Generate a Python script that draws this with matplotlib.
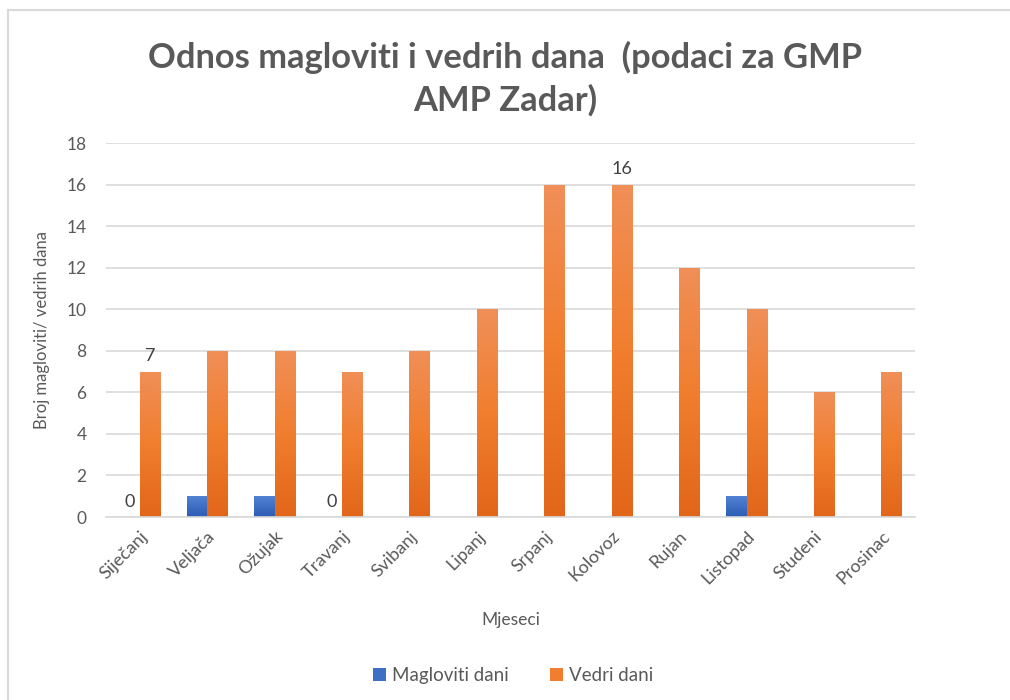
import numpy as np
import matplotlib.pyplot as plt
from matplotlib.colors import LinearSegmentedColormap
from matplotlib.lines import Line2D
from matplotlib.patches import Patch

plt.rcParams["font.family"] = ["Lato", "DejaVu Sans"]

TEXT_COLOR = "#595959"
GRID_COLOR = "#D9D9D9"

months = ["Siječanj", "Veljača", "Ožujak", "Travanj", "Svibanj", "Lipanj",
          "Srpanj", "Kolovoz", "Rujan", "Listopad", "Studeni", "Prosinac"]
foggy_days = [0, 1, 1, 0, 0, 0, 0, 0, 0, 1, 0, 0]
clear_days = [7, 8, 8, 7, 8, 10, 16, 16, 12, 10, 6, 7]

# which bars carry a value label: (series, month index)
labelled = [("foggy", 0), ("clear", 0), ("foggy", 3), ("clear", 7)]

orange_cmap = LinearSegmentedColormap.from_list("og", ["#E2661A", "#F07E2E", "#F08F58"])
blue_cmap = LinearSegmentedColormap.from_list("bl", ["#2C5BB3", "#3F6FC4", "#5282D2"])


def gradient_bars(ax, bars, cmap):
    grad = np.linspace(0, 1, 256).reshape(-1, 1)
    for b in bars:
        x0, y0 = b.get_x(), b.get_y()
        w, h = b.get_width(), b.get_height()
        if h <= 0:
            continue
        b.set_facecolor("none")
        im = ax.imshow(grad, cmap=cmap, origin="lower", aspect="auto",
                       extent=[x0, x0 + w, y0, y0 + h], zorder=2.5)
        im.set_clip_path(b)


fig = plt.figure(figsize=(10.1, 7.0), dpi=100)
ax = fig.add_axes([0.105, 0.2614, 0.801, 0.5343])

x = np.arange(len(months))
w = 0.30
b1 = ax.bar(x - w / 2, foggy_days, w, color="#3F6FC4", zorder=2.5, linewidth=0)
b2 = ax.bar(x + w / 2, clear_days, w, color="#F07E2E", zorder=2.5, linewidth=0)
gradient_bars(ax, b1, blue_cmap)
gradient_bars(ax, b2, orange_cmap)

ax.set_xlim(-0.5, len(months) - 0.5)
ax.set_ylim(0, 18)
ax.set_yticks(range(0, 19, 2))
ax.yaxis.grid(True, color=GRID_COLOR, linewidth=1.2, zorder=0)
ax.set_axisbelow(True)
for s in ["top", "right", "left"]:
    ax.spines[s].set_visible(False)
ax.spines["bottom"].set_color(GRID_COLOR)
ax.spines["bottom"].set_linewidth(1.2)
ax.tick_params(axis="both", length=0, colors=TEXT_COLOR, labelsize=12.5)
ax.tick_params(axis="y", pad=14)
ax.set_xticks(x)
ax.set_xticklabels(months, rotation=45, ha="right", rotation_mode="anchor",
                   fontsize=13)
ax.tick_params(axis="x", pad=8)

for series, i in labelled:
    if series == "foggy":
        xi, val = x[i] - w / 2, foggy_days[i]
    else:
        xi, val = x[i] + w / 2, clear_days[i]
    ax.text(xi, val + 0.35, str(val), ha="center", va="bottom",
            fontsize=13, color="#404040")

ax.set_xlabel("Mjeseci", color=TEXT_COLOR, fontsize=12.5, labelpad=18)
ax.set_ylabel("Broj magloviti/ vedrih dana", color=TEXT_COLOR, fontsize=12, labelpad=12)

fig.text(0.5, 0.888, "Odnos magloviti i vedrih dana  (podaci za GMP\nAMP Zadar)",
         ha="center", va="center", fontsize=24.8, fontweight="bold",
         color=TEXT_COLOR, linespacing=1.38)

handles = [Patch(facecolor="#3F6FC4"), Patch(facecolor="#F07E2E")]
fig.legend(handles, ["Magloviti dani", "Vedri dani"], loc="center",
           bbox_to_anchor=(0.508, 0.035), ncol=2, frameon=False,
           fontsize=13.5, labelcolor=TEXT_COLOR, handlelength=0.7,
           handleheight=0.7, handletextpad=0.3, columnspacing=2.2)

# chart frame (top and left edges)
fig.add_artist(Line2D([8 / 1010, 1], [1 - 10 / 700, 1 - 10 / 700],
                      transform=fig.transFigure, color="#D9D9D9", linewidth=1.5))
fig.add_artist(Line2D([8 / 1010, 8 / 1010], [0, 1 - 10 / 700],
                      transform=fig.transFigure, color="#D9D9D9", linewidth=1.5))

fig.savefig("out.png", dpi=100)
